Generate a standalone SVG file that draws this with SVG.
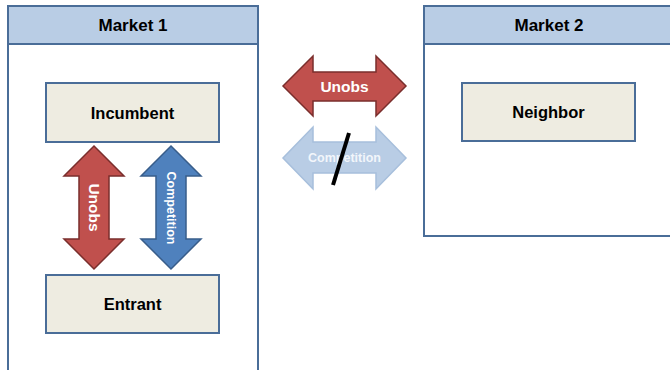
<svg xmlns="http://www.w3.org/2000/svg" width="670" height="370" viewBox="0 0 670 370">
<style>
.box{fill:#ffffff;stroke:#4a6d98;stroke-width:2}
.hdr{fill:#b9cde5;stroke:#4a6d98;stroke-width:2}
.node{fill:#eeece1;stroke:#4a6d98;stroke-width:2}
.t{font-family:"Liberation Sans",Arial,sans-serif;font-weight:bold;fill:#000;text-anchor:middle}
.w{font-family:"Liberation Sans",Arial,sans-serif;font-weight:bold;fill:#fff;text-anchor:middle}
.red{fill:#c0504d;stroke:#7a2e2c;stroke-width:1.5}
.blue{fill:#4f81bd;stroke:#385d8a;stroke-width:1.5}
.lblue{fill:#b9cde5;stroke:#a7bfdc;stroke-width:1.5}
</style>
<g id="market1">
<rect class="box" x="8" y="6" width="250" height="380"/>
<rect class="hdr" x="8" y="6" width="250" height="38"/>
<text class="t" x="133" y="31" font-size="17">Market 1</text>
</g>
<g id="market2">
<rect class="box" x="424" y="6" width="260" height="230"/>
<rect class="hdr" x="424" y="6" width="260" height="38"/>
<text class="t" x="549" y="31" font-size="17">Market 2</text>
</g>
<g id="incumbent">
<rect class="node" x="46" y="83" width="173" height="59"/>
<text class="t" x="132.5" y="119" font-size="16.5">Incumbent</text>
</g>
<g id="entrant">
<rect class="node" x="46" y="275" width="173" height="58"/>
<text class="t" x="132.5" y="310" font-size="16.5">Entrant</text>
</g>
<g id="neighbor">
<rect class="node" x="462" y="83" width="173" height="58"/>
<text class="t" x="548.5" y="118" font-size="16.5">Neighbor</text>
</g>
<g id="connectors">
<g id="v-unobs">
<polygon class="red" points="94,146 124,176 109,176 109,239 124,239 94,269 64,239 79,239 79,176 64,176"/>
<text class="w" font-size="15.5" transform="translate(89,207.5) rotate(90)">Unobs</text>
</g>
<g id="v-competition">
<polygon class="blue" points="171,146 201,176 186,176 186,239 201,239 171,269 141,239 156,239 156,176 141,176"/>
<text class="w" font-size="12.5" transform="translate(167,208) rotate(90)">Competition</text>
</g>
<g id="h-unobs">
<polygon class="red" points="283,86 313,56 313,72 376,72 376,56 406,86 376,116 376,101 313,101 313,116"/>
<text class="w" x="344.5" y="92" font-size="15.5">Unobs</text>
</g>
<g id="h-competition">
<polygon class="lblue" points="283,158 313,127 313,142 376,142 376,127 406,158 376,189 376,173 313,173 313,189"/>
<text x="344.5" y="162" font-size="12.5" font-family="Liberation Sans,Arial,sans-serif" font-weight="bold" fill="#f2f6fb" text-anchor="middle">Competition</text>
<line x1="349" y1="133" x2="333" y2="185" stroke="#000" stroke-width="4"/>
</g>
</g>
</svg>
